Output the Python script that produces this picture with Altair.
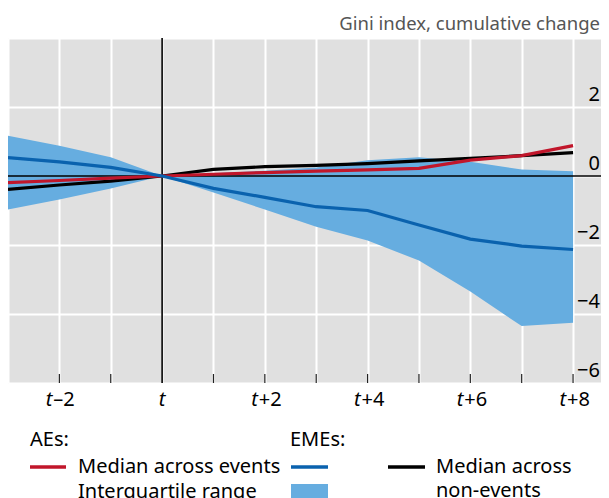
import altair as alt
import pandas as pd

# ---- data ----
periods = [-3, -2, -1, 0, 1, 2, 3, 4, 5, 6, 7, 8]
eme_q75 = [1.17, 0.88, 0.54, 0.0, 0.08, 0.15, 0.25, 0.46, 0.54, 0.41, 0.19, 0.14]
eme_q25 = [-0.97, -0.68, -0.36, 0.0, -0.48, -0.97, -1.47, -1.87, -2.45, -3.35, -4.35, -4.25]
eme_median = [0.53, 0.41, 0.25, 0.0, -0.36, -0.62, -0.89, -1.0, -1.42, -1.83, -2.03, -2.13]
ae_median = [-0.19, -0.13, -0.06, 0.0, 0.05, 0.10, 0.14, 0.18, 0.22, 0.46, 0.59, 0.88]
nonevent_median = [-0.39, -0.26, -0.15, 0.0, 0.19, 0.27, 0.31, 0.36, 0.44, 0.51, 0.59, 0.68]

y_tick_values = [2, 0, -2, -4, -6]
y_tick_labels = ["2", "0", "\u22122", "\u22124", "\u22126"]
x_label_periods = [-2, 2, 4, 6, 8]
x_label_suffix = ["\u20132", "+2", "+4", "+6", "+8"]
x_minor_ticks = [-2, -1, 1, 2, 3, 4, 5, 6, 7, 8]
x_grid = list(range(-3, 9))
y_grid = [-6, -4, -2, 0, 2, 4]

df = pd.DataFrame({
    "period": periods,
    "q75": eme_q75,
    "q25": eme_q25,
    "eme": eme_median,
    "ae": ae_median,
    "non": nonevent_median,
})

W, H = 593, 345
FONT = "Noto Sans"
FS = 20
RED = "#c1162b"
BLUE = "#0a62ae"
BAND = "#66ade0"

xs = alt.Scale(domain=[-3, 8.544], nice=False, zero=False)
ys = alt.Scale(domain=[-6, 4], nice=False, zero=False)

band = alt.Chart(df).mark_area(color=BAND, opacity=1).encode(
    x=alt.X("period:Q", scale=xs,
            axis=alt.Axis(values=x_grid, grid=True, gridColor="white", gridWidth=2,
                          labels=False, ticks=False, domain=False, title=None)),
    y=alt.Y("q25:Q", scale=ys,
            axis=alt.Axis(values=y_grid, grid=True, gridColor="white", gridWidth=2,
                          labels=False, ticks=False, domain=False, title=None)),
    y2="q75:Q",
)

zero_line = alt.Chart(pd.DataFrame({"v": [0]})).mark_rule(color="black", strokeWidth=1.6).encode(
    y=alt.Y("v:Q", scale=ys))
t_line = alt.Chart(pd.DataFrame({"p": [0]})).mark_rule(color="black", strokeWidth=1.6).encode(
    x=alt.X("p:Q", scale=xs))

ticks = alt.Chart(pd.DataFrame({"p": x_minor_ticks})).mark_rule(color="#222", strokeWidth=1.2).encode(
    x=alt.X("p:Q", scale=xs), y=alt.value(H), y2=alt.value(H - 9))

def series(field, color):
    return alt.Chart(df).mark_line(color=color, strokeWidth=3.2).encode(
        x=alt.X("period:Q", scale=xs), y=alt.Y(f"{field}:Q", scale=ys))

black_line = series("non", "black")
red_line = series("ae", RED)
blue_line = series("eme", BLUE)

ylabels = alt.Chart(pd.DataFrame({"v": y_tick_values, "lab": y_tick_labels})).mark_text(
    align="right", baseline="alphabetic", dy=-6, fontSize=FS, font=FONT, color="black").encode(
    x=alt.value(592), y=alt.Y("v:Q", scale=ys), text="lab:N")

XLAB_Y = 368
xl_df = pd.DataFrame({"p": x_label_periods, "suf": x_label_suffix})
xl_t = alt.Chart(xl_df).mark_text(text="t", fontStyle="italic", align="right", baseline="alphabetic",
                                  dx=-7, fontSize=FS, font=FONT, color="black").encode(
    x=alt.X("p:Q", scale=xs), y=alt.value(XLAB_Y))
xl_suf = alt.Chart(xl_df).mark_text(align="left", baseline="alphabetic", dx=-6,
                                    fontSize=FS, font=FONT, color="black").encode(
    x=alt.X("p:Q", scale=xs), y=alt.value(XLAB_Y), text="suf:N")
xl_t0 = alt.Chart(pd.DataFrame({"p": [0]})).mark_text(text="t", fontStyle="italic", align="center",
                                                     baseline="alphabetic", fontSize=FS, font=FONT,
                                                     color="black").encode(
    x=alt.X("p:Q", scale=xs), y=alt.value(XLAB_Y))

one = pd.DataFrame({"a": [0]})

def label(txt, x, y, size=FS, color="black", align="left", baseline="middle"):
    return alt.Chart(one).mark_text(text=txt, align=align, baseline=baseline, fontSize=size,
                                    font=FONT, color=color).encode(x=alt.value(x), y=alt.value(y))

def leg_line(x1, x2, y, color):
    return alt.Chart(one).mark_rule(color=color, strokeWidth=3.5).encode(
        x=alt.value(x1), x2=alt.value(x2), y=alt.value(y))

title = label("Gini index, cumulative change", 592, -8, size=18.5, color="#555555",
              align="right", baseline="alphabetic")

legend = [
    label("AEs:", 22, 402),
    label("EMEs:", 282, 402),
    leg_line(22, 58, 429, RED),
    label("Median across events", 70, 429),
    leg_line(283, 320, 429, BLUE),
    leg_line(380, 417, 429, "black"),
    label("Median across", 428, 429),
    label("non-events", 428, 453),
    label("Interquartile range", 70, 454),
    alt.Chart(one).mark_rect(color=BAND).encode(
        x=alt.value(283), x2=alt.value(320), y=alt.value(446), y2=alt.value(464)),
]

chart = alt.layer(
    band, zero_line, t_line, ticks, black_line, red_line, blue_line,
    ylabels, xl_t, xl_suf, xl_t0, title, *legend
).properties(
    width=W, height=H,
    autosize=alt.AutoSizeParams(type="none"),
    padding={"left": 0, "top": 30, "right": 0, "bottom": 120},
).configure_view(fill="#e0e0e0", stroke="transparent")

chart.save("out.html", embed_options={"renderer": "svg", "actions": False})
